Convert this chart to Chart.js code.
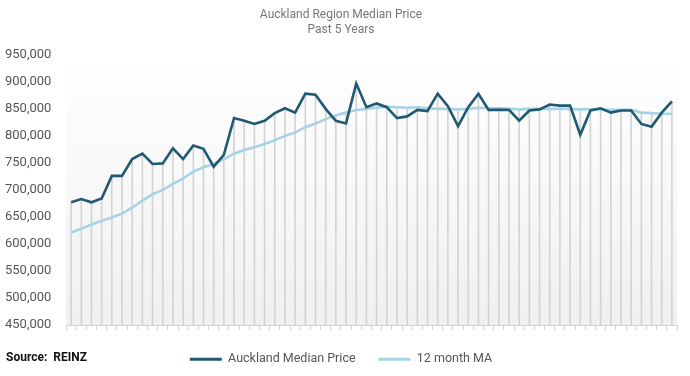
<!DOCTYPE html>
<html>
<head>
<meta charset="utf-8">
<script src="https://cdn.jsdelivr.net/npm/chart.js@4.4.1/dist/chart.umd.min.js"></script>
<style>
  html, body { margin: 0; padding: 0; background: #fff; }
  #wrap { width: 690px; height: 376px; }
</style>
</head>
<body>
<div id="wrap"><canvas id="chart" width="690" height="376"></canvas></div>
<script>
// 60 monthly observations (labels are not shown on the axis)
const months = Array.from({ length: 60 }, (_, i) => 'M' + (i + 1))

const medianPrice = [
  677000, 683000, 677000, 684000, 726000, 726000, 757000, 767000, 748000, 749000,
  777000, 757000, 782000, 776000, 743000, 765000, 833000, 828000, 822000, 828000,
  842000, 851000, 843000, 878000, 876000, 850000, 828000, 823000, 897000, 853000,
  860000, 853000, 833000, 836000, 848000, 846000, 878000, 855000, 818000, 853000,
  878000, 848000, 848000, 848000, 828000, 847000, 849000, 858000, 856000, 856000,
  802000, 847000, 851000, 843000, 847000, 847000, 822000, 817000, 843000, 864000
]

const movingAvg = [
  621000, 628000, 636000, 643000, 649000, 656000, 667000, 680000, 692000, 700000,
  711000, 721000, 734000, 742000, 748000, 757000, 767000, 774000, 779000, 785000,
  792000, 800000, 806000, 816000, 823000, 831000, 838000, 843000, 848000, 850000,
  852000, 854000, 853000, 852000, 853000, 851000, 850000, 850000, 849000, 850000,
  852000, 851000, 851000, 850000, 849000, 850000, 850000, 850000, 850000, 850000,
  849000, 849000, 849000, 848000, 848000, 848000, 843000, 842000, 841000, 841000
]

const Y_MIN = 450000
const Y_MAX = 950000
const Y_STEP = 50000

const DARK = '#1f5a72'
const LIGHT = '#a8d2e6'

// drop lines reach up to whichever series is higher that month
const dropLines = medianPrice.map((v, i) => Math.max(v, movingAvg[i]))

Chart.defaults.font.family = 'Roboto, "Noto Sans", sans-serif'

// faint grey fade behind the plot
const plotShade = {
  id: 'plotShade',
  beforeDraw(chart) {
    const { ctx, chartArea: a } = chart
    const g = ctx.createLinearGradient(0, a.top, 0, a.bottom)
    g.addColorStop(0, '#ffffff')
    g.addColorStop(1, '#f0f0f0')
    ctx.save()
    ctx.fillStyle = g
    ctx.fillRect(a.left, a.top, a.right - a.left, a.bottom - a.top)
    ctx.restore()
  }
}

const sourceNote = {
  id: 'sourceNote',
  afterDraw(chart) {
    const { ctx } = chart
    ctx.save()
    ctx.font = 'bold 12px Roboto, sans-serif'
    ctx.fillStyle = '#111'
    ctx.textBaseline = 'middle'
    ctx.fillText('Source:  REINZ', 6, 358)
    ctx.restore()
  }
}

new Chart(document.getElementById('chart'), {
  type: 'bar',
  data: {
    labels: months,
    datasets: [
      {
        type: 'line',
        label: 'Auckland Median Price',
        data: medianPrice,
        borderColor: DARK,
        backgroundColor: DARK,
        borderWidth: 2.6,
        pointRadius: 0,
        tension: 0,
        order: 1
      },
      {
        type: 'line',
        label: '12 month MA',
        data: movingAvg,
        borderColor: LIGHT,
        backgroundColor: LIGHT,
        borderWidth: 2.6,
        pointRadius: 0,
        tension: 0,
        order: 2
      },
      {
        type: 'bar',
        label: 'drop',
        data: dropLines,
        backgroundColor: '#d4d4d4',
        barThickness: 1,
        order: 3
      }
    ]
  },
  options: {
    responsive: false,
    animation: false,
    layout: { padding: { left: 5, right: 13, top: 0, bottom: 11 } },
    scales: {
      x: {
        offset: true,
        grid: { offset: true, drawOnChartArea: false, drawTicks: true, tickLength: 5, color: '#d2d2d2' },
        border: { display: true, color: '#d2d2d2' },
        ticks: { display: false }
      },
      y: {
        min: Y_MIN,
        max: Y_MAX,
        ticks: {
          stepSize: Y_STEP,
          color: '#555',
          font: { size: 13 },
          crossAlign: 'far',
          padding: 0,
          callback: v => v.toLocaleString('en-US')
        },
        grid: { display: false },
        border: { display: false },
        afterFit: s => { s.width = 61 }
      }
    },
    plugins: {
      title: {
        display: true,
        text: ['Auckland Region Median Price', 'Past 5 Years'],
        color: '#777',
        font: { size: 12, weight: 'normal', lineHeight: 1.2 },
        padding: { top: 8, bottom: 18 }
      },
      legend: {
        position: 'bottom',
        maxHeight: 35,
        labels: {
          boxWidth: 32,
          boxHeight: 3,
          padding: 23,
          color: '#555',
          font: { size: 12.5 },
          generateLabels: chart => chart.data.datasets.slice(0, 2).map((ds, i) => ({
            text: ds.label,
            fillStyle: ds.borderColor,
            strokeStyle: ds.borderColor,
            lineWidth: 0,
            hidden: false,
            datasetIndex: i,
            fontColor: '#555'
          }))
        }
      },
      tooltip: { enabled: false }
    }
  },
  plugins: [plotShade, sourceNote]
})
</script>
</body>
</html>
